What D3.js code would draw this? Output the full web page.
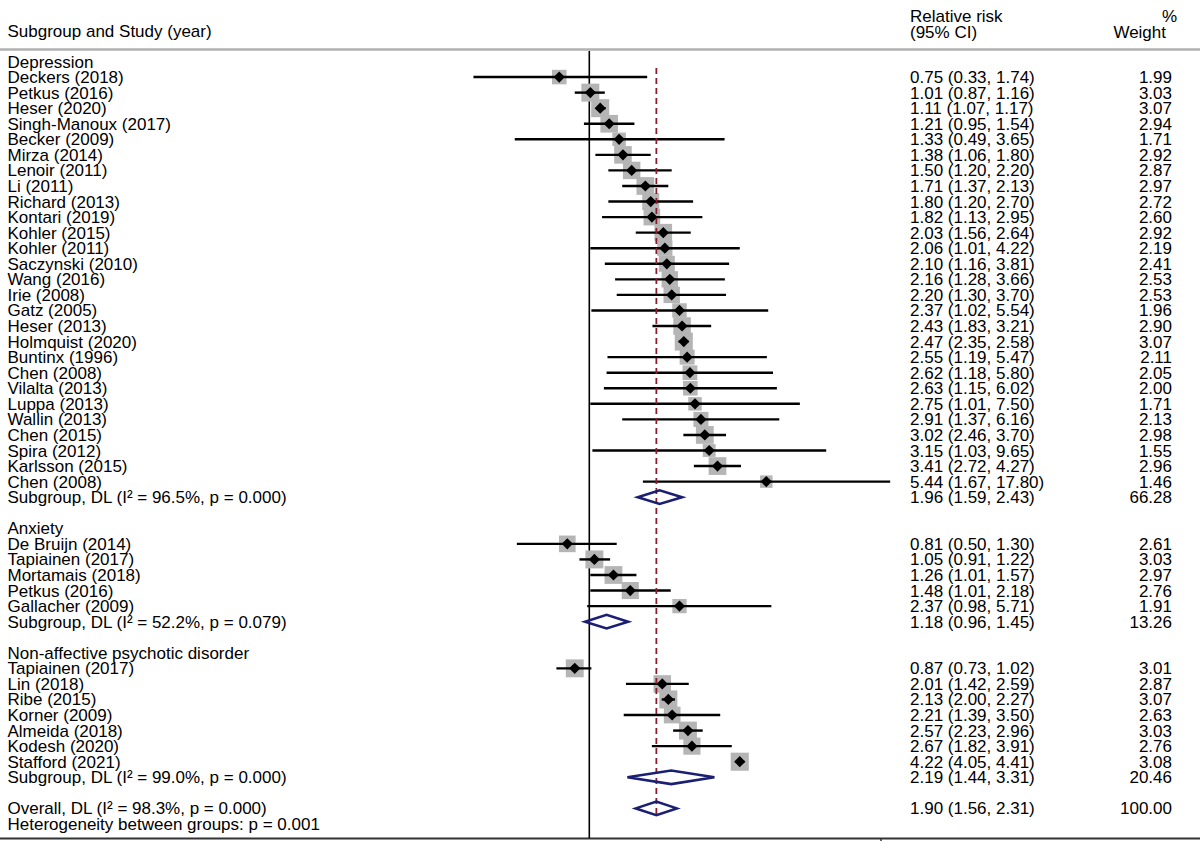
<!DOCTYPE html>
<html>
<head>
<meta charset="utf-8">
<script src="https://cdn.jsdelivr.net/npm/d3@7"></script>
<style>
  html, body { margin: 0; padding: 0; background: #fff; }
  svg { display: block; }
  text { font-family: "Liberation Sans", Arial, Helvetica, sans-serif; font-size: 17px; fill: #000; }
</style>
</head>
<body>
<script>
// ---------- DATA ----------
const groupNames = ["Depression", "Anxiety", "Non-affective psychotic disorder"];

const depStudies = ["Deckers (2018)","Petkus (2016)","Heser (2020)","Singh-Manoux (2017)","Becker (2009)","Mirza (2014)","Lenoir (2011)","Li (2011)","Richard (2013)","Kontari (2019)","Kohler (2015)","Kohler (2011)","Saczynski (2010)","Wang (2016)","Irie (2008)","Gatz (2005)","Heser (2013)","Holmquist (2020)","Buntinx (1996)","Chen (2008)","Vilalta (2013)","Luppa (2013)","Wallin (2013)","Chen (2015)","Spira (2012)","Karlsson (2015)","Chen (2008)"];
const depRR  = [0.75,1.01,1.11,1.21,1.33,1.38,1.50,1.71,1.80,1.82,2.03,2.06,2.10,2.16,2.20,2.37,2.43,2.47,2.55,2.62,2.63,2.75,2.91,3.02,3.15,3.41,5.44];
const depLo  = [0.33,0.87,1.07,0.95,0.49,1.06,1.20,1.37,1.20,1.13,1.56,1.01,1.16,1.28,1.30,1.02,1.83,2.35,1.19,1.18,1.15,1.01,1.37,2.46,1.03,2.72,1.67];
const depHi  = [1.74,1.16,1.17,1.54,3.65,1.80,2.20,2.13,2.70,2.95,2.64,4.22,3.81,3.66,3.70,5.54,3.21,2.58,5.47,5.80,6.02,7.50,6.16,3.70,9.65,4.27,17.80];
const depW   = [1.99,3.03,3.07,2.94,1.71,2.92,2.87,2.97,2.72,2.60,2.92,2.19,2.41,2.53,2.53,1.96,2.90,3.07,2.11,2.05,2.00,1.71,2.13,2.98,1.55,2.96,1.46];

const anxStudies = ["De Bruijn (2014)","Tapiainen (2017)","Mortamais (2018)","Petkus (2016)","Gallacher (2009)"];
const anxRR  = [0.81,1.05,1.26,1.48,2.37];
const anxLo  = [0.50,0.91,1.01,1.01,0.98];
const anxHi  = [1.30,1.22,1.57,2.18,5.71];
const anxW   = [2.61,3.03,2.97,2.76,1.91];

const napStudies = ["Tapiainen (2017)","Lin (2018)","Ribe (2015)","Korner (2009)","Almeida (2018)","Kodesh (2020)","Stafford (2021)"];
const napRR  = [0.87,2.01,2.13,2.21,2.57,2.67,4.22];
const napLo  = [0.73,1.42,2.00,1.39,2.23,1.82,4.05];
const napHi  = [1.02,2.59,2.27,3.50,2.96,3.91,4.41];
const napW   = [3.01,2.87,3.07,2.63,3.03,2.76,3.08];

// pooled subgroup estimates
const subLabels = ["Subgroup, DL (I\u00B2 = 96.5%, p = 0.000)","Subgroup, DL (I\u00B2 = 52.2%, p = 0.079)","Subgroup, DL (I\u00B2 = 99.0%, p = 0.000)"];
const subRR = [1.96, 1.18, 2.19];
const subLo = [1.59, 0.96, 1.44];
const subHi = [2.43, 1.45, 3.31];
const subW  = [66.28, 13.26, 20.46];

const overallLabel = "Overall, DL (I\u00B2 = 98.3%, p = 0.000)";
const overallRR = 1.90, overallLo = 1.56, overallHi = 2.31, overallW = 100.00;
const hetLabel = "Heterogeneity between groups: p = 0.001";

// ---------- BUILD ROWS ----------
const groups = [
  {studies: depStudies, rr: depRR, lo: depLo, hi: depHi, w: depW},
  {studies: anxStudies, rr: anxRR, lo: anxLo, hi: anxHi, w: anxW},
  {studies: napStudies, rr: napRR, lo: napLo, hi: napHi, w: napW}
];
const rows = [];
groups.forEach((g, gi) => {
  rows.push({type: "header", label: groupNames[gi]});
  g.studies.forEach((s, i) => rows.push({type: "study", label: s, rr: g.rr[i], lo: g.lo[i], hi: g.hi[i], w: g.w[i]}));
  rows.push({type: "pooled", label: subLabels[gi], rr: subRR[gi], lo: subLo[gi], hi: subHi[gi], w: subW[gi]});
  rows.push({type: "blank"});
});
rows.push({type: "pooled", label: overallLabel, rr: overallRR, lo: overallLo, hi: overallHi, w: overallW, overall: true});
rows.push({type: "text", label: hetLabel});

// ---------- LAYOUT ----------
const W = 1200, H = 841;
const xRef = 589.3, pxPerLn = 104.5;
const x = d3.scaleLog().domain([0.25, 20])
  .range([xRef + pxPerLn * Math.log(0.25), xRef + pxPerLn * Math.log(20)]);
const y = d3.scaleLinear().domain([0, rows.length - 1]).range([61.5, 61.5 + 15.56 * (rows.length - 1)]);
const f2 = d3.format(".2f");
const boxK = 10.3;

const svg = d3.select("body").append("svg").attr("width", W).attr("height", H);

// header
svg.append("text").attr("x", 7.5).attr("y", 37).text("Subgroup and Study (year)");
svg.append("text").attr("x", 910).attr("y", 22).text("Relative risk");
svg.append("text").attr("x", 910).attr("y", 37.5).text("(95% CI)");
svg.append("text").attr("x", 1177).attr("y", 22).attr("text-anchor", "end").text("%");
svg.append("text").attr("x", 1166).attr("y", 37.5).attr("text-anchor", "end").text("Weight");
svg.append("line").attr("x1", 0).attr("x2", W).attr("y1", 49.5).attr("y2", 49.5)
  .attr("stroke", "#b0b0b0").attr("stroke-width", 2.5);

// bottom axis line
svg.append("line").attr("x1", 0).attr("x2", W).attr("y1", 838.5).attr("y2", 838.5)
  .attr("stroke", "#333").attr("stroke-width", 2);
svg.append("line").attr("x1", 881).attr("x2", 881).attr("y1", 838).attr("y2", 841)
  .attr("stroke", "#333").attr("stroke-width", 1.5);

// null line
svg.append("line").attr("x1", x(1)).attr("x2", x(1)).attr("y1", 51).attr("y2", 838)
  .attr("stroke", "#000").attr("stroke-width", 1.6);

const idxOverall = rows.findIndex(r => r.overall);

// studies: boxes
const studyRows = rows.map((r, i) => Object.assign({i}, r)).filter(r => r.type === "study");
svg.append("g").selectAll("rect").data(studyRows).join("rect")
  .attr("x", d => x(d.rr) - boxK * Math.sqrt(d.w) / 2)
  .attr("y", d => y(d.i) - boxK * Math.sqrt(d.w) / 2)
  .attr("width", d => boxK * Math.sqrt(d.w))
  .attr("height", d => boxK * Math.sqrt(d.w))
  .attr("fill", "#b5b5b5");

// CI lines
svg.append("g").selectAll("line").data(studyRows).join("line")
  .attr("x1", d => x(d.lo)).attr("x2", d => x(d.hi))
  .attr("y1", d => y(d.i)).attr("y2", d => y(d.i))
  .attr("stroke", "#000").attr("stroke-width", 2.4);

// overall dashed line
svg.append("line").attr("x1", x(overallRR)).attr("x2", x(overallRR))
  .attr("y1", 68).attr("y2", y(idxOverall) + 6)
  .attr("stroke", "#8b1c2c").attr("stroke-width", 1.8).attr("stroke-dasharray", "6,4");

// point diamonds
svg.append("g").selectAll("path").data(studyRows).join("path")
  .attr("d", d => {
    const cx = x(d.rr), cy = y(d.i), r = 5.6;
    return `M${cx - r},${cy}L${cx},${cy - r}L${cx + r},${cy}L${cx},${cy + r}Z`;
  })
  .attr("fill", "#000");

// pooled diamonds
const pooledRows = rows.map((r, i) => Object.assign({i}, r)).filter(r => r.type === "pooled");
svg.append("g").selectAll("path").data(pooledRows).join("path")
  .attr("d", d => {
    const cy = y(d.i), h = 6.8;
    return `M${x(d.lo)},${cy}L${x(d.rr)},${cy - h}L${x(d.hi)},${cy}L${x(d.rr)},${cy + h}Z`;
  })
  .attr("fill", "none").attr("stroke", "#1b1f72").attr("stroke-width", 2.6)
  .attr("stroke-linejoin", "miter");

// left labels
const labRows = rows.map((r, i) => Object.assign({i}, r)).filter(r => r.type !== "blank");
svg.append("g").selectAll("text").data(labRows).join("text")
  .attr("x", 7.5).attr("y", d => y(d.i) + 6)
  .text(d => d.label);

// right columns
const numRows = rows.map((r, i) => Object.assign({i}, r)).filter(r => r.type === "study" || r.type === "pooled");
svg.append("g").selectAll("text").data(numRows).join("text")
  .attr("x", 910).attr("y", d => y(d.i) + 6)
  .text(d => `${f2(d.rr)} (${f2(d.lo)}, ${f2(d.hi)})`);
svg.append("g").selectAll("text").data(numRows).join("text")
  .attr("x", 1172).attr("y", d => y(d.i) + 6).attr("text-anchor", "end")
  .text(d => f2(d.w));
</script>
</body>
</html>
